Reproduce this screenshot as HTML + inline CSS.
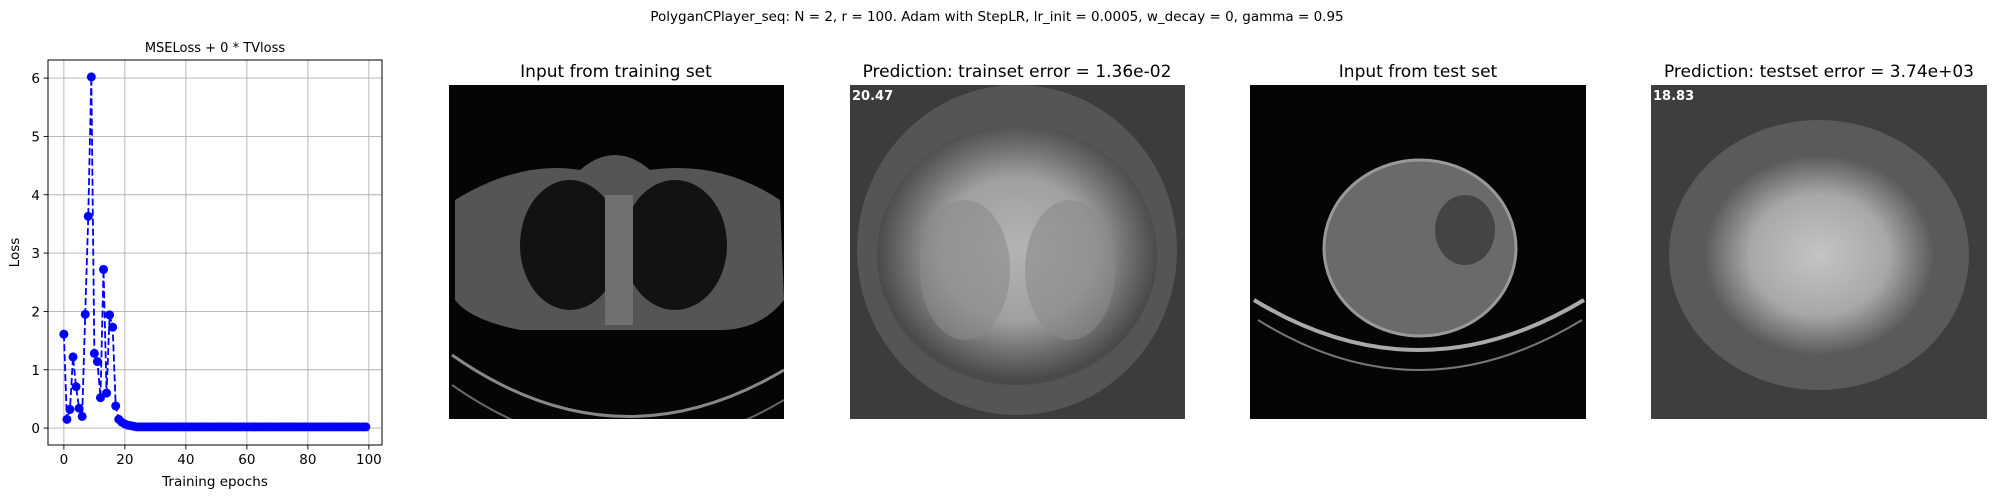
<!DOCTYPE html>
<html><head><meta charset="utf-8"><style>
body{margin:0;background:#fff;width:1995px;height:498px;overflow:hidden;font-family:"DejaVu Sans","Liberation Sans",sans-serif;}
svg text{font-family:"DejaVu Sans","Liberation Sans",sans-serif;}
</style></head><body>
<svg id="fig" width="1995" height="498" xmlns="http://www.w3.org/2000/svg">
<defs>
<radialGradient id="g1" cx="50%" cy="48%" r="50%"><stop offset="0" stop-color="#b4b4b4"/><stop offset="0.55" stop-color="#a0a0a0"/><stop offset="0.8" stop-color="#6e6e6e"/><stop offset="1" stop-color="#4a4a4a"/></radialGradient>
<radialGradient id="g2" cx="50%" cy="50%" r="50%"><stop offset="0" stop-color="#c4c4c4"/><stop offset="0.6" stop-color="#a8a8a8"/><stop offset="1" stop-color="#5a5a5a"/></radialGradient>
<clipPath id="c1"><rect x="449" y="85" width="335" height="334"/></clipPath>
<clipPath id="c3"><rect x="1250" y="85" width="336" height="334"/></clipPath>
</defs>
<text x="997" y="21" font-size="13.5" text-anchor="middle" fill="#000">PolyganCPlayer_seq: N = 2, r = 100. Adam with StepLR, lr_init = 0.0005, w_decay = 0, gamma = 0.95</text>
<g id="chart"></g>

<g>
<text x="616" y="77" font-size="17" text-anchor="middle">Input from training set</text>
<g clip-path="url(#c1)">
<rect x="449" y="85" width="335" height="334" fill="#050505"/>
<path d="M455 200 Q520 160 580 170 Q615 140 650 170 Q720 160 780 200 L784 300 Q760 330 720 330 L520 330 Q470 320 455 300 Z" fill="#555"/>
<ellipse cx="570" cy="245" rx="50" ry="65" fill="#121212"/>
<ellipse cx="675" cy="245" rx="52" ry="65" fill="#121212"/>
<rect x="605" y="195" width="28" height="130" fill="#707070"/>
<path d="M452 355 Q616 470 784 370" stroke="#888" stroke-width="3" fill="none"/>
<path d="M452 385 Q616 500 784 400" stroke="#666" stroke-width="2" fill="none"/>
</g>
</g>

<g>
<text x="1017" y="77" font-size="17" text-anchor="middle">Prediction: trainset error = 1.36e-02</text>
<rect x="850" y="85" width="335" height="334" fill="#3c3c3c"/>
<ellipse cx="1017" cy="250" rx="160" ry="165" fill="#555"/>
<ellipse cx="1017" cy="255" rx="140" ry="130" fill="url(#g1)"/>
<ellipse cx="965" cy="270" rx="45" ry="70" fill="#8a8a8a" opacity="0.6"/>
<ellipse cx="1070" cy="270" rx="45" ry="70" fill="#8a8a8a" opacity="0.6"/>
<text x="852" y="100" font-size="13" font-weight="bold" fill="#fff">20.47</text>
</g>

<g>
<text x="1418" y="77" font-size="17" text-anchor="middle">Input from test set</text>
<g clip-path="url(#c3)">
<rect x="1250" y="85" width="336" height="334" fill="#050505"/>
<ellipse cx="1420" cy="248" rx="96" ry="88" fill="#6a6a6a" stroke="#999" stroke-width="3"/>
<ellipse cx="1465" cy="230" rx="30" ry="35" fill="#444"/>
<path d="M1254 300 Q1418 400 1584 300" stroke="#aaa" stroke-width="4" fill="none"/>
<path d="M1258 320 Q1418 420 1582 320" stroke="#777" stroke-width="2" fill="none"/>
</g>
</g>

<g>
<text x="1819" y="77" font-size="17" text-anchor="middle">Prediction: testset error = 3.74e+03</text>
<rect x="1651" y="85" width="336" height="334" fill="#3e3e3e"/>
<ellipse cx="1819" cy="255" rx="150" ry="135" fill="#5a5a5a"/>
<ellipse cx="1819" cy="255" rx="115" ry="100" fill="url(#g2)"/>
<text x="1653" y="100" font-size="13" font-weight="bold" fill="#fff">18.83</text>
</g>
</svg>
<script>
const epochs = [];
for (let i = 0; i < 100; i++) epochs.push(i);
const lossHead = [1.61,0.15,0.32,1.22,0.71,0.34,0.2,1.95,3.63,6.02,1.28,1.14,0.52,2.72,0.6,1.94,1.73,0.38,0.15,0.1,0.07,0.05,0.04,0.03];
const lossTail = new Array(76).fill(0.02);
const loss = lossHead.concat(lossTail);
const xTicks = [0,20,40,60,80,100];
const yTicks = [0,1,2,3,4,5,6];

const L=48,R=382,T=60,B=445;
const X0=-5.2,X1=104.3,Y0=-0.29,Y1=6.31;
function sx(v){return L+(v-X0)/(X1-X0)*(R-L);}
function sy(v){return B-(v-Y0)/(Y1-Y0)*(B-T);}
const NS='http://www.w3.org/2000/svg';
const g=document.getElementById('chart');
function mk(tag,attrs,parent){const e=document.createElementNS(NS,tag);for(const k in attrs)e.setAttribute(k,attrs[k]);(parent||g).appendChild(e);return e;}

const title=mk('text',{x:(L+R)/2,y:52,'font-size':13,'text-anchor':'middle'});
title.textContent='MSELoss + 0 * TVloss';



xTicks.forEach(t=>{
  const ln=mk('line',{x1:sx(t),x2:sx(t),y1:T,y2:B,stroke:'#b0b0b0','stroke-width':0.9});
  
  
  mk('line',{x1:sx(t),x2:sx(t),y1:B,y2:B+4.5,stroke:'#000','stroke-width':0.9});
  const tx=mk('text',{x:sx(t),y:B+19,'font-size':13.5,'text-anchor':'middle'});
  tx.textContent=t;
  
  
});
yTicks.forEach(t=>{
  const ln=mk('line',{x1:L,x2:R,y1:sy(t),y2:sy(t),stroke:'#b0b0b0','stroke-width':0.9});
  
  
  mk('line',{x1:L-4.5,x2:L,y1:sy(t),y2:sy(t),stroke:'#000','stroke-width':0.9});
  const tx=mk('text',{x:L-8,y:sy(t)+5,'font-size':13.5,'text-anchor':'end'});
  tx.textContent=t;
  
  
});
const frame=mk('rect',{x:L,y:T,width:R-L,height:B-T,fill:'none',stroke:'#000','stroke-width':1});



const xl=mk('text',{x:(L+R)/2,y:486,'font-size':13.5,'text-anchor':'middle'});
xl.textContent='Training epochs';


const yl=mk('text',{x:0,y:0,'font-size':13.5,'text-anchor':'middle',transform:'translate(19,'+(T+B)/2+') rotate(-90)'});
yl.textContent='Loss';



const pts=epochs.map((e,i)=>sx(e)+','+sy(loss[i])).join(' ');
const line=mk('polyline',{points:pts,fill:'none',stroke:'#0000ff','stroke-width':1.8,'stroke-dasharray':'7,3'});


epochs.forEach((e,i)=>{
  const c=mk('circle',{cx:sx(e),cy:sy(loss[i]),r:4.5,fill:'#0000ff'});
  
  
});
</script>
</body></html>
